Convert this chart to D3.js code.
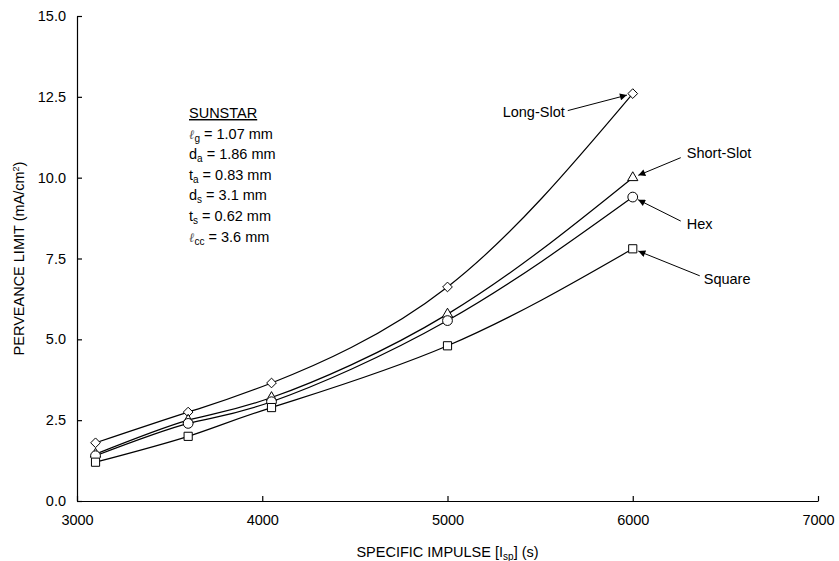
<!DOCTYPE html>
<html><head><meta charset="utf-8">
<script src="https://cdn.jsdelivr.net/npm/d3@7"></script>
<style>
body{margin:0;background:#fff;}
text{font-family:"Liberation Sans",Arial,sans-serif;fill:#000;}
</style></head>
<body><svg id="c" width="839" height="561"></svg>
<script>
const isp = [3100, 3600, 4050, 5000, 6000];
const longSlot  = [1.8, 2.75, 3.65, 6.62, 12.6];
const shortSlot = [1.45, 2.5, 3.2, 5.78, 10.0];
const hex       = [1.4, 2.4, 3.07, 5.58, 9.4];
const square    = [1.2, 2.0, 2.89, 4.8, 7.8];
const xTicks = [3000, 4000, 5000, 6000, 7000];
const yTicks = [0, 2.5, 5, 7.5, 10, 12.5, 15];
const seriesNames = ["Long-Slot", "Short-Slot", "Hex", "Square"];
const infoLines = [["SUNSTAR"],["ℓ","g"," = 1.07 mm"],["d","a"," = 1.86 mm"],["t","a"," = 0.83 mm"],["d","s"," = 3.1 mm"],["t","s"," = 0.62 mm"],["ℓ","cc"," = 3.6 mm"]];

const FS = 14.5;
const svg = d3.select("#c");
const x = d3.scaleLinear().domain([3000, 7000]).range([77, 818]);
const y = d3.scaleLinear().domain([0, 15]).range([501, 16]);

svg.append("defs").append("marker").attr("id","arr").attr("viewBox","0 0 10 10")
  .attr("refX",10).attr("refY",5).attr("markerWidth",10).attr("markerHeight",7)
  .attr("markerUnits","userSpaceOnUse").attr("orient","auto")
  .append("path").attr("d","M0,0L10,5L0,10Z").attr("fill","#000");

const xAxis = d3.axisBottom(x).tickValues(xTicks).tickSizeInner(-5).tickSizeOuter(0).tickPadding(15).tickFormat(d3.format("d"));
const gx = svg.append("g").attr("transform",`translate(0,${y(0)})`).call(xAxis);
const yAxis = d3.axisLeft(y).tickValues(yTicks).tickSizeInner(-5).tickSizeOuter(0).tickPadding(11).tickFormat(d3.format(".1f"));
const gy = svg.append("g").attr("transform",`translate(${x(3000)},0)`).call(yAxis);
[gx,gy].forEach(g=>{
  g.selectAll("path,line").attr("stroke","#000").attr("stroke-width",1.2);
  g.selectAll("text").attr("font-size",FS).attr("font-family","Liberation Sans, Arial, sans-serif");
});
gx.selectAll("text").attr("dy","0.6em");

const xt = svg.append("text").attr("x",x(5000)).attr("y",557).attr("text-anchor","middle").attr("font-size",FS);
xt.append("tspan").text("SPECIFIC IMPULSE [I");
xt.append("tspan").attr("font-size",10).attr("dy",3).text("sp");
xt.append("tspan").attr("dy",-3).text("] (s)");
const yt = svg.append("text").attr("transform",`translate(24,${y(7.5)}) rotate(-90)`).attr("text-anchor","middle").attr("font-size",FS);
yt.append("tspan").text("PERVEANCE LIMIT (mA/cm");
yt.append("tspan").attr("font-size",9).attr("dy",-5).text("2");
yt.append("tspan").attr("dy",5).text(")");

const all = [longSlot, shortSlot, hex, square];
const line = d3.line().x((d,i)=>x(isp[i])).y(d=>y(d)).curve(d3.curveNatural);
all.forEach(s=>{
  svg.append("path").attr("d",line(s)).attr("fill","none").attr("stroke","#000").attr("stroke-width",1.2);
});

const sym = [d3.symbolDiamond2, d3.symbolTriangle2, d3.symbolCircle, d3.symbolSquare2];
const sizes = [60, 75, 75, 85];
all.forEach((s,k)=>{
  svg.append("g").selectAll("path").data(s).join("path")
    .attr("transform",(d,i)=>`translate(${x(isp[i])},${y(d)})`)
    .attr("d",d3.symbol().type(sym[k]).size(sizes[k]))
    .attr("fill","#fff").attr("stroke","#000").attr("stroke-width",1);
});

const ann = [
  {s:0, tx:-68, ty:18, lx:-65, ly:17, anchor:"end"},
  {s:1, tx:54, ty:-25, lx:48, ly:-20, anchor:"start"},
  {s:2, tx:54, ty:27, lx:48, ly:24, anchor:"start"},
  {s:3, tx:71, ty:30, lx:67, ly:27, anchor:"start"}
];
ann.forEach(a=>{
  const px = x(isp[4]), py = y(all[a.s][4]);
  const sx = px + a.lx, sy = py + a.ly;
  const dx = px - sx, dy = py - sy, L = Math.hypot(dx,dy);
  const ex = px - dx/L*6, ey = py - dy/L*6;
  svg.append("line").attr("x1",sx).attr("y1",sy).attr("x2",ex).attr("y2",ey)
    .attr("stroke","#000").attr("stroke-width",1).attr("marker-end","url(#arr)");
  svg.append("text").attr("x",px + a.tx).attr("y",py + a.ty).attr("dy","0.35em")
    .attr("text-anchor",a.anchor).attr("font-size",FS).text(seriesNames[a.s]);
});

const info = svg.append("g");
infoLines.forEach((ln,i)=>{
  const t = info.append("text").attr("x",189).attr("y",118 + i*20.6).attr("font-size",FS);
  if (ln.length === 1) {
    t.text(ln[0]).attr("text-decoration","underline");
  } else {
    const main = t.append("tspan").text(ln[0]);
    if (ln[0]==="ℓ") main.attr("font-style","italic").attr("fill","#555").attr("font-family","DejaVu Serif, serif").attr("font-size",13);
    t.append("tspan").attr("font-size",10).attr("dy",3).text(ln[1]);
    t.append("tspan").attr("dy",-3).text(ln[2]);
  }
});
</script></body></html>
